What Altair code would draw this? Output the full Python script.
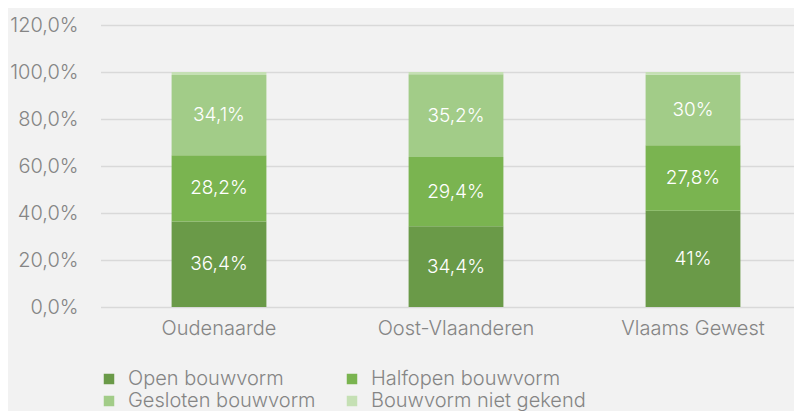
import altair as alt
import pandas as pd

regions = ["Oudenaarde", "Oost-Vlaanderen", "Vlaams Gewest"]
series = ["Open bouwvorm", "Halfopen bouwvorm", "Gesloten bouwvorm", "Bouwvorm niet gekend"]
open_v = [36.4, 34.4, 41.0]
halfopen_v = [28.2, 29.4, 27.8]
gesloten_v = [34.1, 35.2, 30.0]
niet_v = [1.3, 1.0, 1.2]
colors = ["#6a9a48", "#7ab450", "#a2cc88", "#c5e0b4"]

rows = []
for si, (s, vals) in enumerate(zip(series, [open_v, halfopen_v, gesloten_v, niet_v])):
    for r, v in zip(regions, vals):
        lab = ("%g" % v).replace(".", ",") + "%" if si < 3 else ""
        rows.append({"regio": r, "reeks": s, "order": si, "waarde": v / 100, "label": lab})
df = pd.DataFrame(rows)

FONT = "Inter"
GREY = "#858585"

x = alt.X("regio:N", sort=regions, title=None,
          scale=alt.Scale(range=[-1.5, 709.5], paddingInner=0.6, paddingOuter=0.3),
          axis=alt.Axis(labelAngle=0, labelFontSize=20, labelColor=GREY, labelPadding=11,
                        domain=False, ticks=False, labelFont=FONT, labelFontWeight=300))
y = alt.Y("sum(waarde):Q", title=None, stack="zero",
          scale=alt.Scale(domain=[0, 1.2]),
          axis=alt.Axis(values=[0, 0.2, 0.4, 0.6, 0.8, 1.0, 1.2],
                        labelExpr="replace(format(datum.value, '.1%'), '.', ',')",
                        labelFontSize=20, labelColor=GREY, labelPadding=24,
                        domain=False, ticks=False, gridColor="#d9d9d9", gridWidth=1.5,
                        labelFont=FONT, labelFontWeight=300))

bars = alt.Chart(df).mark_bar().encode(
    x=x, y=y,
    color=alt.Color("reeks:N", sort=series, title=None,
                    scale=alt.Scale(domain=series, range=colors),
                    legend=alt.Legend(orient="none", legendX=-3, legendY=344, columns=2,
                                      direction="horizontal",
                                      symbolType="square", symbolSize=110, symbolStrokeWidth=0,
                                      labelFontSize=20, labelColor=GREY, labelFont=FONT,
                                      labelFontWeight=300, columnPadding=26, rowPadding=2,
                                      labelOffset=9, labelLimit=400)),
    order=alt.Order("order:Q"),
)

text = alt.Chart(df).mark_text(color="white", fontSize=19, font=FONT, fontWeight=300).encode(
    x=alt.X("regio:N", sort=regions),
    y=alt.Y("mid:Q"),
    text="label:N",
).transform_stack(
    stack="waarde", groupby=["regio"], sort=[alt.SortField("order")], as_=["y0", "y1"]
).transform_calculate(mid="(datum.y0 + datum.y1) / 2")

chart = (bars + text).properties(
    width=692, height=282, background="#f2f2f2",
    autosize=alt.AutoSizeParams(type="none"),
    padding={"left": 94, "top": 17, "right": 0, "bottom": 104},
).configure_view(stroke=None)

chart.save("out.html", embed_options={"renderer": "svg", "actions": False})
